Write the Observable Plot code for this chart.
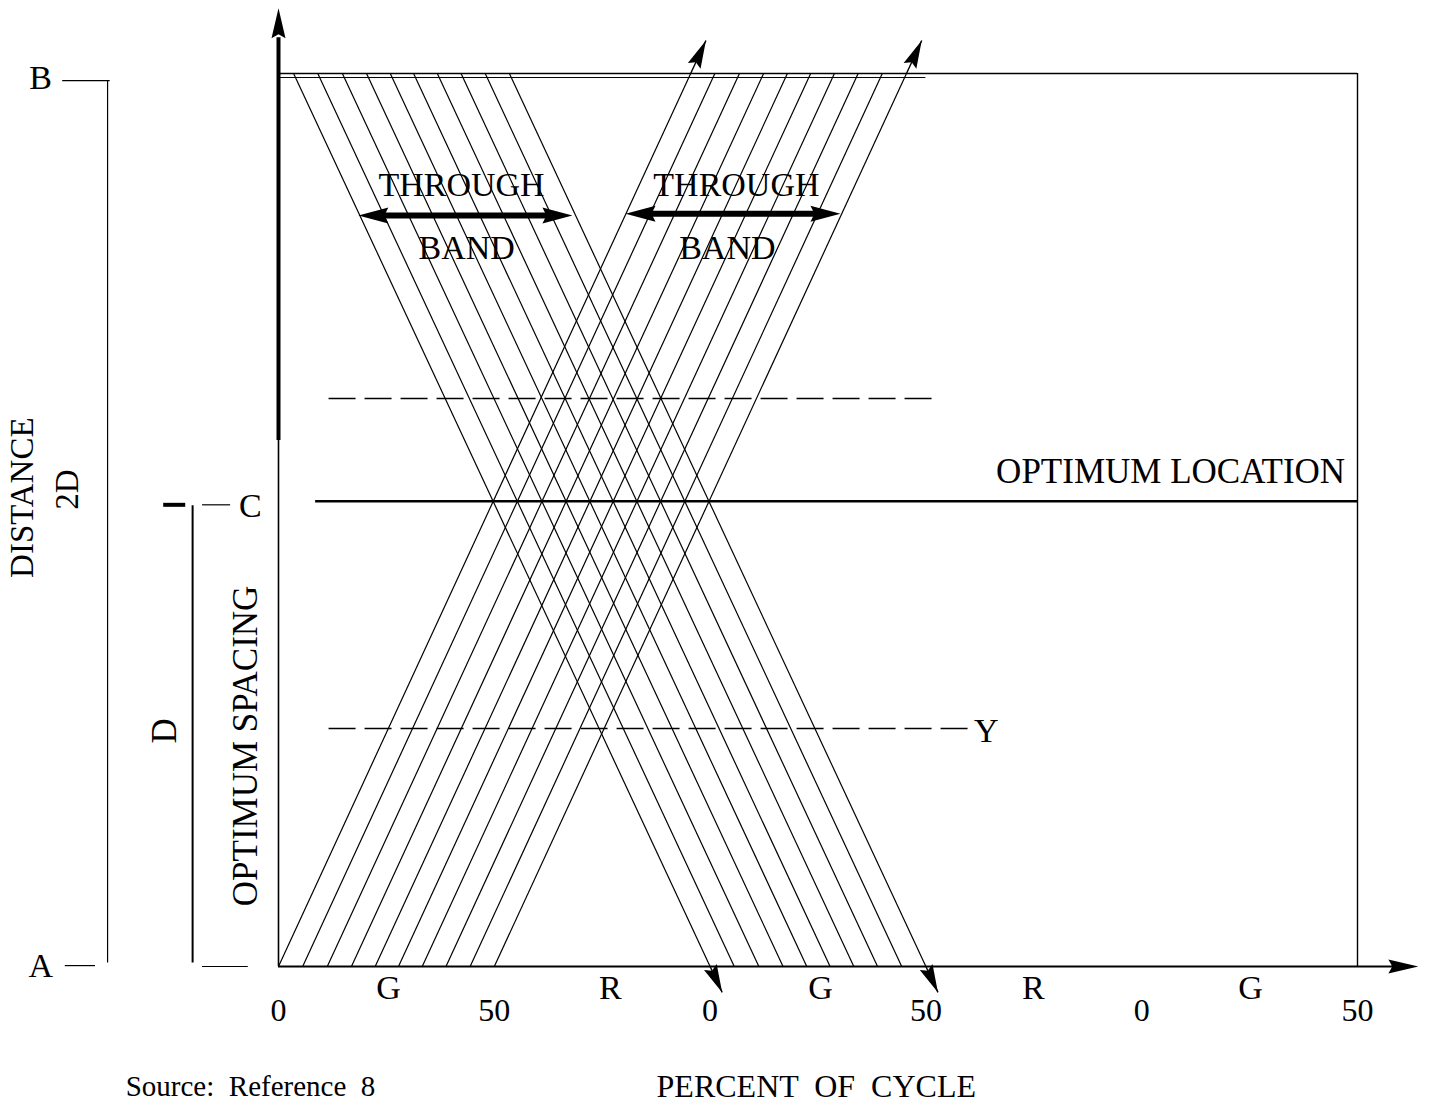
<!DOCTYPE html>
<html>
<head>
<meta charset="utf-8">
<script src="https://cdn.jsdelivr.net/npm/d3@7"></script>
<script src="https://cdn.jsdelivr.net/npm/@observablehq/plot@0.6"></script>
<style>
  html, body { margin: 0; padding: 0; background: #fff; }
  #chart svg { display: block; }
</style>
</head>
<body>
<div id="chart"></div>
<script>
// ---------- data (x: percent of cycle, y: distance, A = 0, B = 100) ----------
const tickValues = [0, 50, 100, 150, 200, 250];
const tickLabels = ["0", "50", "0", "50", "0", "50"];
const phaseLabels = ["G", "R", "G", "R", "G"];
const phaseX = [25.5, 76.9, 125.6, 174.9, 225.2];

// start offsets of the ten vehicle trajectories inside each through band
const bandOffsets = [0, 5.6, 11.3, 16.9, 22.4, 27.8, 33.3, 38.8, 44.4, 50];
const ascTravel = 95.5;    // travel (percent of cycle) from A to B
const descStart = 3.5;     // offset of the B -> A band at B
const descTravel = 96.5;   // travel (percent of cycle) from B to A
const ascOvershoot = 103.7;  // arrow tip beyond B
const descOvershoot = -2.9;  // arrow tip beyond A

const pointNames = ["A", "C", "B"];
const pointDist = [0, 52, 100];
const optimumY = 52.1;

const dashedY = [63.6, 26.65];
const dashedFrom = [11.6, 11.6];
const dashedTo = [153.2, 160.3];

const bandLabelTop = ["THROUGH", "THROUGH"];
const bandLabelBottom = ["BAND", "BAND"];
const bandTopX = [42.4, 106.1];
const bandBottomX = [43.6, 104.0];
const bandArrowFrom = [18.5, 80.4];
const bandArrowTo = [68.1, 130.2];
const bandArrowY = [84.1, 84.3];

// ---------- layout ----------
const W = 1432, H = 1105;
const mL = 278, mR = 75, mT = 73, mB = 139;
const pxX = (W - mL - mR) / 250;
const pxY = (H - mT - mB) / 100;
const deg = r => r * 180 / Math.PI;
const ascAngle = deg(Math.atan2(ascTravel * pxX, 100 * pxY));
const descAngle = 180 - deg(Math.atan2(descTravel * pxX, 100 * pxY));

const head = (L, w) => ({
  draw(ctx) { ctx.moveTo(0, 0); ctx.lineTo(w, L); ctx.lineTo(0, L - 4); ctx.lineTo(-w, L); ctx.closePath(); }
});

// ---------- derived mark data ----------
const asc = bandOffsets.map(o => ({x1: o, y1: pointDist[0], x2: o + ascTravel, y2: pointDist[2]}));
const desc = bandOffsets.map(o => ({x1: descStart + o, y1: pointDist[2], x2: descStart + o + descTravel, y2: pointDist[0]}));
const edge = [0, bandOffsets.length - 1];
const ascExt = edge.map(i => ({
  x1: bandOffsets[i] + ascTravel, y1: pointDist[2],
  x2: bandOffsets[i] + ascTravel * ascOvershoot / 100, y2: ascOvershoot
}));
const descExt = edge.map(i => ({
  x1: descStart + bandOffsets[i] + descTravel, y1: pointDist[0],
  x2: descStart + bandOffsets[i] + descTravel * (1 - descOvershoot / 100), y2: descOvershoot
}));
const dashed = dashedY.map((y, i) => ({y, x1: dashedFrom[i], x2: dashedTo[i]}));
const bandTop = bandLabelTop.map((t, i) => ({t, x: bandTopX[i], y: 87.5}));
const bandBot = bandLabelBottom.map((t, i) => ({t, x: bandBottomX[i], y: 80.5}));
const bandArrows = bandArrowFrom.map((x1, i) => ({x1, x2: bandArrowTo[i], y: bandArrowY[i]}));
const phases = phaseLabels.map((t, i) => ({t, x: phaseX[i], y: -2.4}));

// left-hand annotation scale (data units outside the frame)
const leftLabels = [
  {t: "B", x: -55.1, y: 99.5},
  {t: "A", x: -55.1, y: 0},
  {t: "C", x: -6.5, y: 51.6}
];
const leftRotated = [
  {t: "DISTANCE", x: -59.3, y: 52.5, s: 33},
  {t: "2D", x: -48.9, y: 53.4, s: 33},
  {t: "D", x: -26.4, y: 26.4, s: 35},
  {t: "OPTIMUM SPACING", x: -7.6, y: 24.7, s: 35}
];

const chart = Plot.plot({
  width: W, height: H,
  marginLeft: mL, marginRight: mR, marginTop: mT, marginBottom: mB,
  style: {fontFamily: "'Liberation Serif', 'Times New Roman', serif", fontSize: "30px", background: "#fff", color: "#000", overflow: "visible"},
  x: {domain: [0, 250]},
  y: {domain: [0, 100], axis: null},
  marks: [
    Plot.axisX({ticks: tickValues, tickFormat: d => tickLabels[tickValues.indexOf(d)], tickSize: 0, tickPadding: 32, fontSize: 32, label: null}),
    // frame
    Plot.ruleY([pointDist[2]], {x1: 0, x2: 250, stroke: "#000", strokeWidth: 1.4}),
    Plot.ruleY([99.55], {x1: 0, x2: 150, stroke: "#000", strokeWidth: 1}),
    Plot.ruleX([250], {y1: 0, y2: pointDist[2], stroke: "#000", strokeWidth: 1.4}),
    // vertical axis
    Plot.ruleX([0], {y1: 0, y2: 100, stroke: "#000", strokeWidth: 1.6}),
    Plot.ruleX([0], {y1: 58.9, y2: 104, stroke: "#000", strokeWidth: 4}),
    Plot.dot([{x: 0, y: 107.3}], {x: "x", y: "y", symbol: head(30, 7), fill: "#000", stroke: "none"}),
    // horizontal axis
    Plot.ruleY([0], {x1: 0, x2: 262, stroke: "#000", strokeWidth: 2}),
    Plot.dot([{x: 264.1, y: 0}], {x: "x", y: "y", symbol: head(30, 7), rotate: 90, fill: "#000", stroke: "none"}),
    // trajectories
    Plot.link(asc, {x1: "x1", y1: "y1", x2: "x2", y2: "y2", stroke: "#000", strokeWidth: 1.2}),
    Plot.link(desc, {x1: "x1", y1: "y1", x2: "x2", y2: "y2", stroke: "#000", strokeWidth: 1.2}),
    Plot.link(ascExt, {x1: "x1", y1: "y1", x2: "x2", y2: "y2", stroke: "#000", strokeWidth: 1.4}),
    Plot.link(descExt, {x1: "x1", y1: "y1", x2: "x2", y2: "y2", stroke: "#000", strokeWidth: 1.4}),
    Plot.dot(ascExt, {x: "x2", y: "y2", symbol: head(28, 7), rotate: ascAngle, fill: "#000", stroke: "none"}),
    Plot.dot(descExt, {x: "x2", y: "y2", symbol: head(28, 7), rotate: descAngle, fill: "#000", stroke: "none"}),
    // dashed reference lines
    Plot.link(dashed, {x1: "x1", x2: "x2", y1: "y", y2: "y", stroke: "#000", strokeWidth: 1.6, strokeDasharray: "27,9"}),
    Plot.text(["Y"], {x: 164.0, y: 26.4, text: d => d, fontSize: 34}),
    // optimum location
    Plot.ruleY([optimumY], {x1: 8.6, x2: 250, stroke: "#000", strokeWidth: 2.4}),
    Plot.text(["OPTIMUM LOCATION"], {x: 206.7, y: 55.4, text: d => d, fontSize: 35}),
    // through bands
    Plot.arrow(bandArrows, {x1: "x1", x2: "x2", y1: "y", y2: "y", headLength: 0, insetStart: 18, insetEnd: 18, stroke: "#000", strokeWidth: 6}),
    Plot.dot(bandArrows, {x: "x1", y: "y", symbol: head(30, 8), rotate: 270, fill: "#000", stroke: "none"}),
    Plot.dot(bandArrows, {x: "x2", y: "y", symbol: head(30, 8), rotate: 90, fill: "#000", stroke: "none"}),
    Plot.text(bandTop, {x: "x", y: "y", text: "t", fontSize: 34}),
    Plot.text(bandBot, {x: "x", y: "y", text: "t", fontSize: 34}),
    // signal phases
    Plot.text(phases, {x: "x", y: "y", text: "t", fontSize: 34}),
    // left-hand distance annotation
    Plot.ruleY([99.2], {x1: -50, x2: -39, stroke: "#000", strokeWidth: 1.2}),
    Plot.ruleX([-39.6], {y1: 0.4, y2: 99.2, stroke: "#000", strokeWidth: 1.2}),
    Plot.ruleY([0.1], {x1: -49.4, x2: -42.4, stroke: "#000", strokeWidth: 1.2}),
    Plot.ruleX([-19.9], {y1: 0.4, y2: 51.6, stroke: "#000", strokeWidth: 2}),
    Plot.ruleY([0], {x1: -17.6, x2: -7.0, stroke: "#000", strokeWidth: 1.2}),
    Plot.ruleY([51.7], {x1: -26.6, x2: -21.5, stroke: "#000", strokeWidth: 4}),
    Plot.ruleY([51.7], {x1: -17.6, x2: -11.1, stroke: "#000", strokeWidth: 1.2}),
    Plot.text(leftLabels, {x: "x", y: "y", text: "t", fontSize: 34}),
    Plot.text(leftRotated.filter(d => d.s === 33), {x: "x", y: "y", text: "t", fontSize: 33, rotate: -90}),
    Plot.text(leftRotated.filter(d => d.s === 35), {x: "x", y: "y", text: "t", fontSize: 35, rotate: -90}),
    // footer
    Plot.text(["Source:  Reference  8"], {x: -35.4, y: -13.5, text: d => d, fontSize: 29, textAnchor: "start"}),
    Plot.text(["PERCENT  OF  CYCLE"], {x: 124.6, y: -13.5, text: d => d, fontSize: 32})
  ]
});
document.getElementById("chart").append(chart);
</script>
</body>
</html>
